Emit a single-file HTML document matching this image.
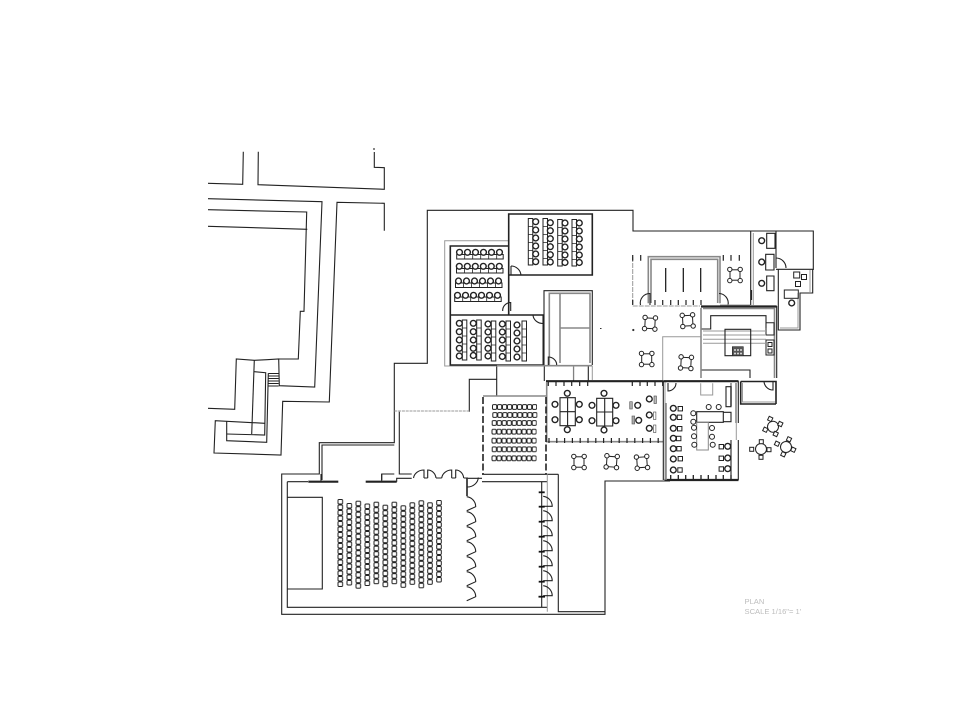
<!DOCTYPE html>
<html>
<head>
<meta charset="utf-8">
<title>Plan</title>
<style>
html,body{margin:0;padding:0;background:#fff;width:960px;height:720px;overflow:hidden}
svg{display:block}
.k{fill:none;stroke:#222;stroke-width:1.1}
.w{fill:none;stroke:#222;stroke-width:1.6}
.h{fill:none;stroke:#222;stroke-width:2.2}
.g{fill:none;stroke:#999;stroke-width:1}
.gg{fill:none;stroke:#888;stroke-width:1.6}
.t{fill:none;stroke:#222;stroke-width:1}
.d{fill:none;stroke:#222;stroke-width:1.1}
text{font-family:"Liberation Sans",sans-serif;font-size:7.6px;fill:#bdbdbd}
</style>
</head>
<body>
<svg width="960" height="720" viewBox="0 0 960 720" xmlns="http://www.w3.org/2000/svg">
<defs>
<pattern id="s" width="6" height="5.5" patternUnits="userSpaceOnUse"><rect x=".7" y=".5" width="4.6" height="4.5" rx="1" fill="#fff" stroke="#222" stroke-width="1"/></pattern>
<pattern id="e" width="5" height="6" patternUnits="userSpaceOnUse"><rect x=".5" y=".6" width="4.2" height="4.8" rx="1.2" fill="#fff" stroke="#222" stroke-width="1"/></pattern>
<g id="rc"><circle r="2.9" fill="#fff" stroke="#222" stroke-width="1.4"/></g>
<g id="st"><circle r="2.5" fill="#fff" stroke="#222" stroke-width="1"/></g>
<g id="sq"><rect x="-2.2" y="-2.2" width="4.4" height="4.4" fill="#fff" stroke="#222" stroke-width="1"/></g>
<g id="tb"><rect x="-5" y="-5.2" width="10" height="10.4" fill="#fff" stroke="#222" stroke-width="1"/>
<g fill="#fff" stroke="#222" stroke-width="1"><circle cx="-5.2" cy="-5.6" r="2.2"/><circle cx="5.2" cy="-5.6" r="2.2"/><circle cx="-5.2" cy="5.6" r="2.2"/><circle cx="5.2" cy="5.6" r="2.2"/></g></g>
<g id="ld"><path class="d" d="M0 0A10 10 0 0 1 9 10L0 14"/></g>
<g id="rd"><path class="d" d="M1.5 4A10 10 0 0 1 10.5 14L1.5 14"/><path d="M-3 0H3" stroke="#111" stroke-width="1.8"/></g>
<g id="deskv"><rect width="4.5" height="46.5" fill="#fff" stroke="#222" stroke-width="1"/><path d="M0 8H4.5M0 16H4.5M0 24H4.5M0 32H4.5M0 40H4.5" stroke="#222" stroke-width=".8"/></g>
<g id="deskb"><rect width="4.5" height="40" fill="#fff" stroke="#222" stroke-width="1"/><path d="M0 8H4.5M0 16H4.5M0 24H4.5M0 32H4.5" stroke="#222" stroke-width=".8"/></g>
<g id="deskh"><rect width="46.5" height="4.5" fill="#fff" stroke="#222" stroke-width="1"/><path d="M8 0V4.5M16 0V4.5M24 0V4.5M32 0V4.5M40 0V4.5" stroke="#222" stroke-width=".8"/></g>
</defs>

<!-- neighbouring site -->
<g class="k">
<path d="M208 183.3L242.7 184.3L243.3 151.7"/>
<path d="M258.3 151.7L258 184.7L384.3 189.3V167.7L374.3 167.3V152"/>
<path d="M374 148V150"/>
<path d="M208 198.7L322 201.7L314.7 387L279.3 385.7L278.7 359L267 359.7L254.3 360.3L236.3 359L234.7 409.3L208 408.3"/>
<path d="M208 209.7L306.7 212L304 311.3H300.3L298.3 359H278.7"/>
<path d="M208 226.3L307.3 229.3"/>
<path d="M384.3 230.7V203.3L337 202.3L329.3 402L282.7 401.3L281 455L214 453L215.3 420.7L264.7 423.3"/>
<path d="M254.3 360.3L251.7 434"/>
<path d="M226.7 421V440.7L266.7 442.3L268.3 373.3"/>
<path d="M226.7 434L264.7 435L265.7 372.7L254.3 371.7"/>
<path d="M268.3 373.5H278.7M268.3 376H278.7M268.3 378.5H278.7M268.3 381H278.7M268.3 383.5H278.7M268.3 386H278.7"/>
</g>

<!-- main outlines -->
<g class="k">
<path d="M592 210.3H427.3V363.3H394.3V442.7H319.3V474H281.7V614.3H605V481H670"/>
<path d="M592 210.3H633V231H813.3V270"/>
<path d="M322 480V445H394.3M381.7 480V474H394.3"/>
<path d="M399.3 411.7V474H411.7"/>
<path d="M287.3 481.7V607.3H547"/>
<path d="M287.3 481.7H308M287.3 497.3H322.3V589H287.3"/>
<path d="M321 474V481.7"/>
<path d="M381.7 474V481.7H366"/>
<path d="M558.3 474.3V611.7H604.5M482 474.3H558.3M482 481.7H547.3"/>
<path d="M469.3 411.7V379.3H496.7M496.7 366V395.7M544.3 366V381"/>
<path d="M573.5 366V381M588.3 366V381"/>
</g>
<path class="g" stroke-dasharray="3 .8" d="M394.3 411H469.3"/>
<path class="h" d="M308.3 481.7H338.3M365.7 481.7H396.7"/>

<!-- upper classrooms -->
<path class="g" d="M508.7 240.7H444.7V366H497"/>
<path class="w" d="M508.7 214H592.3V275H508.7ZM508.7 246H450.3V365H543.3V315H450.3M508.7 275V315"/>
<path class="gg" d="M497 365.7H592.3"/>
<path class="k" d="M544 365V290.7H592.3V365"/>
<path class="gg" d="M549.3 365V293.3H590V363M560 293.3V363M560 328H590"/>
<path class="g" d="M573.7 366V380M592.3 366V380"/>
<path class="d" d="M511 266A10 10 0 0 1 521 275.5M511 266V275M502.7 311A8 8 0 0 1 510.7 302.5V311M533 315A10 9 0 0 0 543 323.5V315M548.3 365V357A8.5 8 0 0 1 556.7 365"/>

<!-- top room seats -->
<use href="#deskv" x="528.3" y="218.5"/><use href="#deskv" x="543" y="218.5"/><use href="#deskv" x="557.7" y="219.5"/><use href="#deskv" x="572" y="219.5"/>
<g>
<use href="#rc" x="535.7" y="221.7"/><use href="#rc" x="535.7" y="230"/><use href="#rc" x="535.7" y="238"/><use href="#rc" x="535.7" y="246"/><use href="#rc" x="535.7" y="254"/><use href="#rc" x="535.7" y="261.7"/>
<use href="#rc" x="550.3" y="222.7"/><use href="#rc" x="550.3" y="230.7"/><use href="#rc" x="550.3" y="238.7"/><use href="#rc" x="550.3" y="246.7"/><use href="#rc" x="550.3" y="254.7"/><use href="#rc" x="550.3" y="262"/>
<use href="#rc" x="565" y="223"/><use href="#rc" x="565" y="231"/><use href="#rc" x="565" y="239"/><use href="#rc" x="565" y="247"/><use href="#rc" x="565" y="255"/><use href="#rc" x="565" y="262.5"/>
<use href="#rc" x="579.3" y="223"/><use href="#rc" x="579.3" y="231"/><use href="#rc" x="579.3" y="239"/><use href="#rc" x="579.3" y="247"/><use href="#rc" x="579.3" y="255"/><use href="#rc" x="579.3" y="262.5"/>
</g>

<!-- left room seats -->
<use href="#deskh" x="456.7" y="254.5"/><use href="#deskh" x="456.5" y="268.5"/><use href="#deskh" x="455.5" y="283"/><use href="#deskh" x="454.7" y="297"/>
<g>
<use href="#rc" x="459.5" y="252.3"/><use href="#rc" x="467.5" y="252.3"/><use href="#rc" x="475.5" y="252.3"/><use href="#rc" x="483.5" y="252.3"/><use href="#rc" x="491.5" y="252.3"/><use href="#rc" x="499.5" y="252.3"/>
<use href="#rc" x="459.3" y="266.3"/><use href="#rc" x="467.3" y="266.3"/><use href="#rc" x="475.3" y="266.3"/><use href="#rc" x="483.3" y="266.3"/><use href="#rc" x="491.3" y="266.3"/><use href="#rc" x="499.3" y="266.3"/>
<use href="#rc" x="458.5" y="281"/><use href="#rc" x="466.5" y="281"/><use href="#rc" x="474.5" y="281"/><use href="#rc" x="482.5" y="281"/><use href="#rc" x="490.5" y="281"/><use href="#rc" x="498.5" y="281"/>
<use href="#rc" x="457.5" y="295.3"/><use href="#rc" x="465.5" y="295.3"/><use href="#rc" x="473.5" y="295.3"/><use href="#rc" x="481.5" y="295.3"/><use href="#rc" x="489.5" y="295.3"/><use href="#rc" x="497.5" y="295.3"/>
</g>

<!-- bottom room seats -->
<use href="#deskb" x="462.3" y="320"/><use href="#deskb" x="476.7" y="320"/><use href="#deskb" x="491.3" y="321"/><use href="#deskb" x="506" y="321"/><use href="#deskb" x="522" y="321"/>
<g>
<use href="#rc" x="459.3" y="323.3"/><use href="#rc" x="459.3" y="331.7"/><use href="#rc" x="459.3" y="340"/><use href="#rc" x="459.3" y="348.3"/><use href="#rc" x="459.3" y="356"/>
<use href="#rc" x="473.3" y="323.3"/><use href="#rc" x="473.3" y="331.7"/><use href="#rc" x="473.3" y="340"/><use href="#rc" x="473.3" y="348.3"/><use href="#rc" x="473.3" y="355.5"/>
<use href="#rc" x="488" y="324"/><use href="#rc" x="488" y="332"/><use href="#rc" x="488" y="340"/><use href="#rc" x="488" y="348.3"/><use href="#rc" x="488" y="356"/>
<use href="#rc" x="502.3" y="324"/><use href="#rc" x="502.3" y="332"/><use href="#rc" x="502.3" y="340"/><use href="#rc" x="502.3" y="348.3"/><use href="#rc" x="502.3" y="356.5"/>
<use href="#rc" x="517" y="325"/><use href="#rc" x="517" y="333"/><use href="#rc" x="517" y="341"/><use href="#rc" x="517" y="349"/><use href="#rc" x="517" y="357"/>
</g>

<!-- centre lecture box -->
<path class="g" stroke-dasharray="5 1" d="M632.7 257V304M632.7 306H700"/>
<path class="gg" d="M648.3 303.3V256.7H720V303.3M651 303V259.3H717.7V303"/>
<path d="M665.7 268V292M683.3 268V292M700.7 268V292" stroke="#111" stroke-width="1.2"/>
<path d="M632.7 255V260.7M640.7 255V260.7M723.3 255V260.7M731 255V260.7M739.3 255V260.7M632.7 300V305M655 300V305M662.7 300V305M670.7 300V305M678.3 300V305M686 300V305M693.3 300V305M701 300V305" stroke="#222" stroke-width="1.2"/>
<path class="d" d="M640.5 305A9.5 9.5 0 0 1 650 293.5V305M719 293.5A9.5 9.5 0 0 1 728 305"/>
<path class="g" d="M720 305H750"/>

<!-- top right offices -->
<path class="k" d="M750.7 231V305M776 231V268M776 269.3H812.7V293H800V330H778.3V269.3"/>
<path class="g" d="M753.3 233V305M810 270V292M798 293V328H780"/>
<path class="k" d="M766.7 233.3H775V248.3H766.7ZM765.7 254.3H774V270H765.7ZM766.7 276H774V290.7H766.7Z"/>
<use href="#rc" x="761.7" y="240.7"/><use href="#rc" x="761.7" y="262"/><use href="#rc" x="761.7" y="283.3"/>
<path class="d" d="M776 258A10 10 0 0 1 786 268"/>
<g class="t"><rect x="793.7" y="272" width="6" height="6"/><rect x="801.5" y="274.5" width="5" height="5"/><rect x="795.5" y="281.5" width="5" height="5"/><rect x="784.3" y="290" width="14" height="8.3"/></g>
<use href="#rc" x="791.7" y="303"/>
<path d="M751.5 290V300" stroke="#222" stroke-width="1.2"/>

<!-- kitchen -->
<path class="g" d="M701 336.7H662.7V380"/>
<path class="h" d="M701 306.5H776.7"/>
<path class="gg" d="M701 308V378M703 308.5H774.5V378"/>
<path class="k" d="M776.7 306V378"/>
<path class="k" d="M701.7 329H710.7V315.7H766V328"/>
<path class="t" d="M766 322.7H774V335H766ZM766 340H774V355H766ZM768 342.5H772V346.5H768ZM768 349H772V353H768Z"/>
<path class="g" d="M703 331H766M703 335H766M703 339.3H766M703 343.3H766"/>
<path class="k" d="M725 355.7V329.3H750.7V355.7Z"/>
<rect x="732.3" y="346.7" width="11" height="9" fill="#555" stroke="#222" stroke-width=".6"/>
<g fill="#ddd"><circle cx="735" cy="350" r="1"/><circle cx="738" cy="350" r="1"/><circle cx="741" cy="350" r="1"/><circle cx="735" cy="353.5" r="1"/><circle cx="738" cy="353.5" r="1"/><circle cx="741" cy="353.5" r="1"/></g>
<path class="k" d="M701.7 370H750V378"/>

<!-- cafe tables upper -->
<use href="#tb" x="650" y="323.3" transform="rotate(3 650 323.3)"/>
<use href="#tb" x="687.7" y="320.7" transform="rotate(-3 687.7 320.7)"/>
<use href="#tb" x="646.7" y="359"/>
<use href="#tb" x="686" y="362.7" transform="rotate(3 686 362.7)"/>
<use href="#tb" x="735" y="275"/>
<circle cx="633.3" cy="330" r="1.1" fill="#333"/><rect x="600" y="328" width="1.5" height="1" fill="#333"/>

<!-- meeting room -->
<path class="h" d="M546 381.2H663.3"/>
<path class="gg" d="M546 441.7H663.3"/>
<path class="gg" d="M546.7 382V441"/>
<path class="g" d="M665 382V480"/>
<path d="M548.3 381V386M556 381V386M564 381V386M571.7 381V386M579.7 381V386M587.7 381V386M632.3 381V386M640 381V386M647.3 381V386M655 381V386M662.7 381V386" stroke="#222" stroke-width="1.2"/>
<path d="M549 438V443M556.8 438V443M564.6 438V443M572.4 438V443M580.2 438V443M588 438V443M595.8 438V443M603.6 438V443M611.4 438V443M619.2 438V443M627 438V443M634.8 438V443M642.6 438V443M650.4 438V443M658.2 438V443" stroke="#222" stroke-width="1.2"/>
<path class="k" d="M560 397.7H575.3V425.7H560ZM567.6 397.7V425.7M560 411.7H575.3M596.7 398.3H612.7V426H596.7ZM604.7 398.3V426M596.7 412H612.7"/>
<g>
<use href="#rc" x="567.3" y="393.3"/><use href="#rc" x="555" y="404.3"/><use href="#rc" x="555" y="419.7"/><use href="#rc" x="579.3" y="404.3"/><use href="#rc" x="579.3" y="419.7"/><use href="#rc" x="567.3" y="429.7"/>
<use href="#rc" x="604" y="393.3"/><use href="#rc" x="592" y="405.3"/><use href="#rc" x="592" y="420.7"/><use href="#rc" x="616" y="405.3"/><use href="#rc" x="616" y="420.7"/><use href="#rc" x="604" y="430"/>
<use href="#rc" x="637.7" y="405.3"/><use href="#rc" x="638.7" y="420.3"/><use href="#rc" x="649.3" y="399"/><use href="#rc" x="649.3" y="415"/><use href="#rc" x="649.3" y="428.3"/>
</g>
<rect x="629.7" y="401.7" width="2.6" height="7.3" fill="#aaa" stroke="#555" stroke-width=".6"/>
<rect x="632" y="416" width="2.6" height="8" fill="#aaa" stroke="#555" stroke-width=".6"/>
<rect x="654" y="396" width="2.4" height="7.5" fill="#bbb" stroke="#444" stroke-width=".6"/>
<rect x="653.5" y="412" width="2.4" height="7.5" fill="#fff" stroke="#444" stroke-width=".6"/>
<rect x="653.5" y="425" width="2.4" height="7.5" fill="#fff" stroke="#444" stroke-width=".6"/>

<!-- small lecture -->
<path class="gg" d="M483 396H546"/>
<path class="w" stroke-dasharray="7 2.5" d="M483 397V474M546 397V474"/>
<g>
<rect width="45" height="6" fill="url(#e)" transform="translate(492 404)"/>
<rect width="45" height="6" fill="url(#e)" transform="translate(492.3 412)"/>
<rect width="45" height="6" fill="url(#e)" transform="translate(491.7 420)"/>
<rect width="45" height="6" fill="url(#e)" transform="translate(491.5 428.7)"/>
<rect width="45" height="6" fill="url(#e)" transform="translate(491.5 437.7)"/>
<rect width="45" height="6" fill="url(#e)" transform="translate(491.7 446.3)"/>
<rect width="45" height="6" fill="url(#e)" transform="translate(491.5 455.3)"/>
</g>

<!-- lower cafe tables -->
<use href="#tb" x="579" y="462"/><use href="#tb" x="611.7" y="461.7" transform="rotate(4 611.7 461.7)"/><use href="#tb" x="642" y="462.3" transform="rotate(-4 642 462.3)"/>

<!-- bar room -->
<path class="h" d="M663.5 381.2H738.5M664.5 480H738.5"/>
<path class="k" d="M663.3 381V480M738.3 381V423M738.3 440V480M731 440V480"/>
<path class="gg" d="M666 403V480M736 383V423M731 383V406"/>
<path class="g" d="M736.3 423V440"/>
<path class="d" d="M668 383V391A8 8 0 0 0 676 383"/>
<path class="g" d="M700.7 383.3V395H712.7V383.3"/>
<path class="k" d="M726 386.7H731V406.7H726Z"/>
<path class="w" d="M740.7 381.5H776V404M740.7 381.5V404H776"/>
<path class="g" d="M742.5 383V402H775"/>
<path class="d" d="M773 381V390A9 9 0 0 1 764 381"/>
<path class="k" d="M696.7 411.7H723.3V422.3H696.7ZM723.3 412.3H731V421.7H723.3Z"/>
<path class="gg" d="M696.7 422.3H708.3V450H696.7Z" style="stroke-width:1"/>
<g>
<use href="#st" x="708.7" y="407"/><use href="#st" x="718.7" y="407"/><use href="#st" x="693.3" y="413.3"/><use href="#st" x="693.3" y="421.7"/><use href="#st" x="694" y="427.7"/><use href="#st" x="694" y="436.3"/><use href="#st" x="694.3" y="444.7"/><use href="#st" x="712" y="428"/><use href="#st" x="712" y="436.7"/><use href="#st" x="712.7" y="444.7"/>
<use href="#rc" x="673.3" y="408.3"/><use href="#rc" x="673.3" y="417.3"/><use href="#rc" x="673.3" y="428.3"/><use href="#rc" x="673.3" y="438.3"/><use href="#rc" x="673.3" y="448.7"/><use href="#rc" x="673.3" y="459"/><use href="#rc" x="673.3" y="470"/>
<use href="#sq" x="680.3" y="408.7"/><use href="#sq" x="679.5" y="417.3"/><use href="#sq" x="679.7" y="428.7"/><use href="#sq" x="678.7" y="438.5"/><use href="#sq" x="679" y="448.7"/><use href="#sq" x="680.3" y="458.7"/><use href="#sq" x="680" y="470"/>
<use href="#rc" x="727.7" y="446.3"/><use href="#rc" x="727.7" y="458"/><use href="#rc" x="727.7" y="468.7"/>
<use href="#sq" x="721.3" y="446.7"/><use href="#sq" x="721.3" y="458.3"/><use href="#sq" x="721.3" y="469"/>
</g>
<path d="M670.7 475V480M678.3 475V480M685.7 475V480M693.3 475V480M701 475V480M708.3 475V480M716 475V480M723.3 475V480M731 475V480" stroke="#222" stroke-width="1.3"/>

<!-- round patio tables -->
<g fill="#fff" stroke="#222" stroke-width="1">
<circle cx="773" cy="426.7" r="5.5"/><circle cx="761" cy="449" r="5.5"/><circle cx="786" cy="447" r="5.5"/>
<rect x="768.2" y="417" width="4" height="4" transform="rotate(25 770.3 419)"/>
<rect x="778.3" y="422" width="4" height="4" transform="rotate(25 780.3 424)"/>
<rect x="773.7" y="432" width="4" height="4" transform="rotate(25 775.7 434)"/>
<rect x="763.3" y="427.7" width="4" height="4" transform="rotate(25 765.3 429.7)"/>
<rect x="759.3" y="439.7" width="4" height="4"/>
<rect x="767" y="447.7" width="4" height="4"/>
<rect x="759" y="455.3" width="4" height="4"/>
<rect x="749.7" y="447.3" width="4" height="4"/>
<rect x="787" y="437.3" width="4" height="4" transform="rotate(25 789 439.3)"/>
<rect x="791.3" y="447.7" width="4" height="4" transform="rotate(25 793.3 449.7)"/>
<rect x="781.3" y="452.3" width="4" height="4" transform="rotate(25 783.3 454.3)"/>
<rect x="775" y="441.7" width="4" height="4" transform="rotate(25 777 443.7)"/>
</g>

<!-- auditorium doors -->
<path class="k" d="M396.7 481.7V478.3H411.7M468 478.3H482"/>
<g class="d">
<path d="M413.5 478A10.5 9 0 0 1 424 470V478M436 478A8.5 9 0 0 0 427.7 470V478M424 478H427.7"/>
<path d="M441.7 478A10 9 0 0 1 451.7 470V478M463.7 478A8 9 0 0 0 455.7 470V478M451.7 478H455.7M436 478H441.7M463.7 478H468"/>
</g>
<path class="w" d="M467 478V496"/>
<path class="d" d="M467.3 487A11 10 0 0 0 478.3 477.5"/>

<!-- auditorium seats -->
<g>
<rect width="6" height="88" fill="url(#s)" transform="translate(337.3 499)"/>
<rect width="6" height="82.5" fill="url(#s)" transform="translate(346.3 503)"/>
<rect width="6" height="88" fill="url(#s)" transform="translate(355.3 500.7)"/>
<rect width="6" height="82.5" fill="url(#s)" transform="translate(364.3 503.5)"/>
<rect width="6" height="82.5" fill="url(#s)" transform="translate(373.3 501.7)"/>
<rect width="6" height="82.5" fill="url(#s)" transform="translate(382.3 504.7)"/>
<rect width="6" height="82.5" fill="url(#s)" transform="translate(391.3 501.7)"/>
<rect width="6" height="82.5" fill="url(#s)" transform="translate(400.3 505.3)"/>
<rect width="6" height="82.5" fill="url(#s)" transform="translate(409.3 502.3)"/>
<rect width="6" height="88" fill="url(#s)" transform="translate(418.3 500.3)"/>
<rect width="6" height="82.5" fill="url(#s)" transform="translate(427 502.3)"/>
<rect width="6" height="82.5" fill="url(#s)" transform="translate(436 500)"/>
</g>

<!-- scalloped walls -->
<use href="#ld" x="466.7" y="496.7"/><use href="#ld" x="466.7" y="511.7"/><use href="#ld" x="466.7" y="526.7"/><use href="#ld" x="466.7" y="541.7"/><use href="#ld" x="466.7" y="556.7"/><use href="#ld" x="466.7" y="571.7"/><use href="#ld" x="466.7" y="586.7"/>
<path class="g" d="M547.3 474.3V611.7"/>
<path class="k" d="M541.7 482V607"/>
<use href="#rd" x="541.7" y="492.3"/><use href="#rd" x="541.7" y="506.7"/><use href="#rd" x="541.7" y="521.7"/><use href="#rd" x="541.7" y="536.7"/><use href="#rd" x="541.7" y="551.7"/><use href="#rd" x="541.7" y="566.7"/><use href="#rd" x="541.7" y="581.7"/>
<path d="M538.5 596.7H545" stroke="#111" stroke-width="1.8"/>

<text x="744.5" y="604">PLAN</text>
<text x="744.5" y="614">SCALE 1/16"= 1'</text>
</svg>
</body>
</html>
